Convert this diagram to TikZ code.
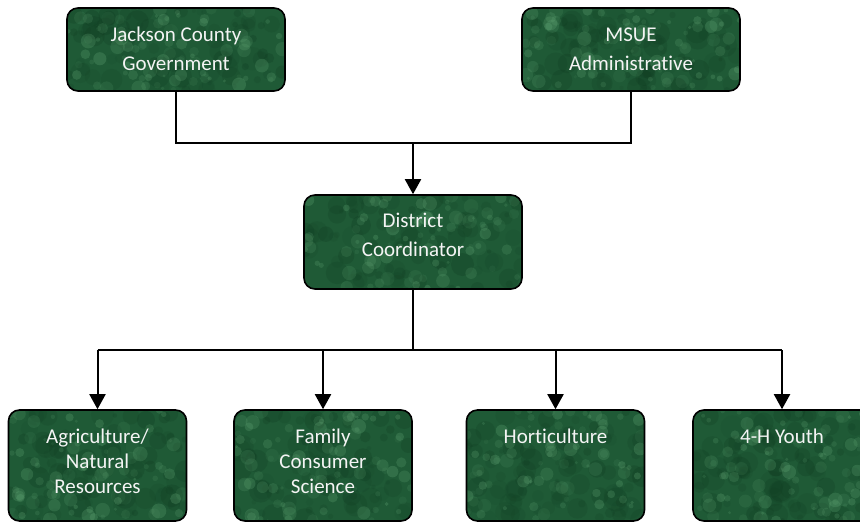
\documentclass[tikz,border=0pt]{standalone}
\usepackage{fontspec}
\setmainfont[Ligatures=NoCommon]{Carlito}
\usetikzlibrary{arrows.meta,calc}
\definecolor{mbase}{HTML}{1F5A36}
\definecolor{mlight}{HTML}{6AAE7C}
\definecolor{mdark}{HTML}{0F3A20}
\definecolor{txtc}{HTML}{F4F4F4}
\tikzset{
  marble/.style={path picture={
    \path (path picture bounding box.south west) coordinate (pp1)
          (path picture bounding box.north east) coordinate (pp2);
    \foreach \k in {1,...,90}{
      \pgfmathsetmacro\mku{rnd}\pgfmathsetmacro\mkv{rnd}
      \pgfmathsetmacro\mkr{2+10*rnd}\pgfmathsetmacro\mko{0.08+0.18*rnd}
      \fill[mdark,opacity=\mko] let \p1=(pp1),\p2=(pp2) in
        ({\x1+\mku*(\x2-\x1)},{\y1+\mkv*(\y2-\y1)}) circle[radius=\mkr pt];
    }
    \foreach \k in {1,...,90}{
      \pgfmathsetmacro\mku{rnd}\pgfmathsetmacro\mkv{rnd}
      \pgfmathsetmacro\mkr{1.5+6*rnd}\pgfmathsetmacro\mko{0.08+0.18*rnd}
      \fill[mlight,opacity=\mko] let \p1=(pp1),\p2=(pp2) in
        ({\x1+\mku*(\x2-\x1)},{\y1+\mkv*(\y2-\y1)}) circle[radius=\mkr pt];
    }
  }},
  box/.style={draw=black,line width=1.6pt,fill=mbase,rounded corners=11pt,
    inner sep=0pt,marble},
  topbox/.style={box,minimum width=218pt,minimum height=83pt},
  midbox/.style={box,minimum width=218pt,minimum height=94pt},
  botbox/.style={box,minimum width=178pt,minimum height=111pt},
  ttxt/.style={text=txtc,align=center,inner sep=0pt,anchor=north,
    font=\fontsize{21}{29}\selectfont},
  btxt/.style={text=txtc,align=center,inner sep=0pt,anchor=north,
    font=\fontsize{21}{25}\selectfont},
  conn/.style={line width=2pt,draw=black},
  arr/.style={conn,-{Triangle[length=15pt,width=16pt]}}
}
\begin{document}
\begin{tikzpicture}[x=1pt,y=-1pt]
\pgfmathsetseed{7}
\useasboundingbox (0,0) rectangle (860,523);
\begin{scope}
\clip (0,0) rectangle (860,523);
% boxes
\node[topbox] (J) at (176,49.5) {};
\node[topbox] (M) at (631,49.5) {};
\node[midbox] (D) at (413,242) {};
\node[botbox] (A) at (97.5,465.5) {};
\node[botbox] (F) at (323,465.5) {};
\node[botbox] (H) at (555.5,465.5) {};
\node[botbox] (Y) at (782,465.5) {};
\end{scope}
% texts
\node[ttxt] (Jt) at ([yshift=-13.7pt]J.north) {\strut Jackson County\\Government};
\node[ttxt] (Mt) at ([yshift=-13.7pt]M.north) {\strut MSUE\\Administrative};
\node[ttxt] (Dt) at ([yshift=-12.7pt]D.north) {\strut District\\Coordinator};
\node[btxt] (At) at ([yshift=-17pt]A.north) {\strut Agriculture/\\Natural\\Resources};
\node[btxt] (Ft) at ([yshift=-17pt]F.north) {\strut Family\\Consumer\\Science};
\node[btxt] (Ht) at ([yshift=-16.5pt]H.north) {\strut Horticulture};
\node[btxt] (Yt) at ([yshift=-16.5pt]Y.north) {\strut 4-H Youth};
% connectors
\coordinate (jt) at (413,143);
\coordinate (jb) at (413,350);
\draw[conn] (J.south) -- (J.south |- jt) -| (M.south);
\draw[arr] (jt) -- (D.north);
\draw[conn] (D.south) -- (jb);
\draw[conn] (A.north |- jb) -- (Y.north |- jb);
\draw[arr] (A.north |- jb) -- (A.north);
\draw[arr] (F.north |- jb) -- (F.north);
\draw[arr] (H.north |- jb) -- (H.north);
\draw[arr] (Y.north |- jb) -- (Y.north);
\end{tikzpicture}
\end{document}
